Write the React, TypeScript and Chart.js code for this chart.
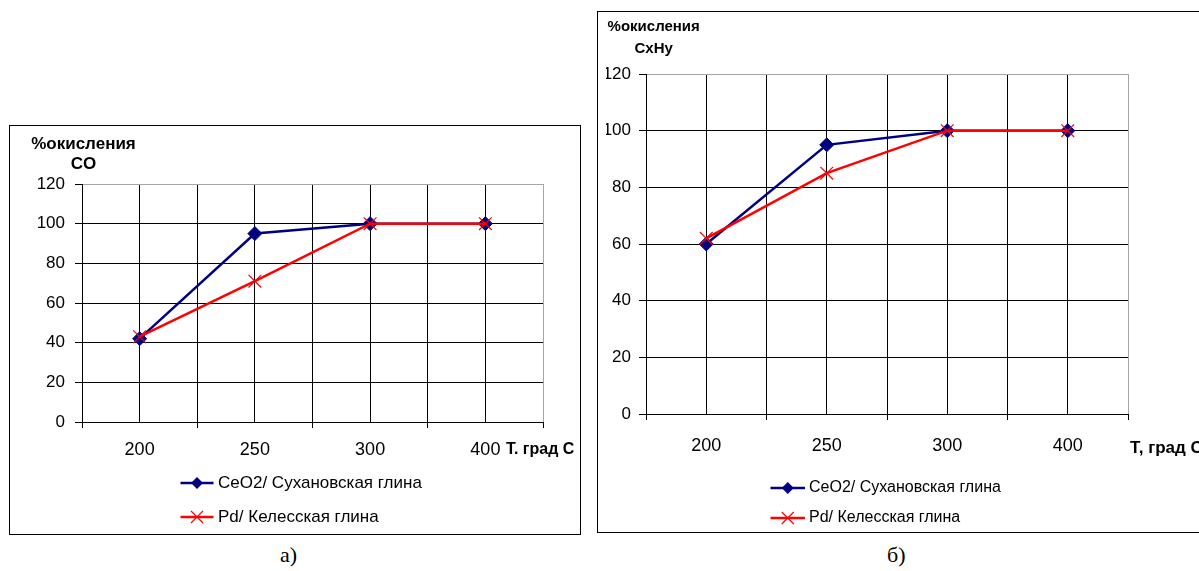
import React, { useEffect, useRef } from 'react';
import { Chart, registerables } from 'chart.js';

Chart.register(...registerables);

// ---- data ----
const categories = ['200', '250', '300', '400'];
const coCeO2 = [42, 95, 100, 100];
const coPd = [43, 71, 100, 100];
const hcCeO2 = [60, 95, 100, 100];
const hcPd = [62, 85, 100, 100];
const seriesNames = ['CeO2/ Сухановская глина', 'Pd/ Келесская глина'];
const yTitleA = ['%окисления', 'CO'];
const yTitleB = ['%окисления', 'CxHy'];
const xTitleA = 'Т. град С';
const xTitleB = 'Т, град С';
const captionA = 'а)';
const captionB = 'б)';

const NAVY = '#000080';
const RED = '#FF0000';
const GRAY = '#a6a6a6';
const FONT = "'Liberation Sans', Arial, sans-serif";

type Cfg = {
  ceo2: number[];
  pd: number[];
  yTitle: string[];
  xTitle: string;
  width: number;
  height: number;
  padding: { left: number; right: number; top: number; bottom: number };
  yAxisWidth: number;
  xAxisHeight: number;
  yFont: number;
  xFont: number;
  titleFont: number;
  xTitleFont: number;
  legendFont: number;
  yPad: number;
  xPad: number;
  yTitleX: number;
  yTitleY: number;
  yTitleGap: number;
  xTitleDx: number;
  xTitleY: number;
  legX1: number;
  legX2: number;
  legTx: number;
  legY1: number;
  legY2: number;
};

function drawDiamond(ctx: CanvasRenderingContext2D, x: number, y: number, r: number, color: string) {
  ctx.beginPath();
  ctx.moveTo(x, y - r);
  ctx.lineTo(x + r, y);
  ctx.lineTo(x, y + r);
  ctx.lineTo(x - r, y);
  ctx.closePath();
  ctx.fillStyle = color;
  ctx.fill();
}

function drawCross(ctx: CanvasRenderingContext2D, x: number, y: number, r: number, color: string) {
  const d = r * Math.SQRT1_2;
  ctx.beginPath();
  ctx.moveTo(x - d, y - d);
  ctx.lineTo(x + d, y + d);
  ctx.moveTo(x + d, y - d);
  ctx.lineTo(x - d, y + d);
  ctx.strokeStyle = color;
  ctx.lineWidth = 1.2;
  ctx.stroke();
}

function LineChart({ cfg }: { cfg: Cfg }) {
  const ref = useRef<HTMLCanvasElement | null>(null);
  useEffect(() => {
    if (!ref.current) return;
    const overlay = {
      id: 'overlay',
      afterDraw(chart: any) {
        const ctx: CanvasRenderingContext2D = chart.ctx;
        const ca = chart.chartArea;
        ctx.save();
        ctx.fillStyle = '#000';
        ctx.textBaseline = 'middle';
        ctx.font = `bold ${cfg.titleFont}px ${FONT}`;
        ctx.textAlign = 'center';
        cfg.yTitle.forEach((t, i) => ctx.fillText(t, cfg.yTitleX, cfg.yTitleY + i * cfg.yTitleGap));
        ctx.textAlign = 'left';
        ctx.font = `bold ${cfg.xTitleFont}px ${FONT}`;
        ctx.fillText(cfg.xTitle, ca.right + cfg.xTitleDx, cfg.xTitleY);

        // legend
        const rows = [
          { y: cfg.legY1, color: NAVY, name: seriesNames[0], marker: 'diamond' },
          { y: cfg.legY2, color: RED, name: seriesNames[1], marker: 'cross' },
        ];
        const mx = (cfg.legX1 + cfg.legX2) / 2;
        rows.forEach((r) => {
          ctx.beginPath();
          ctx.moveTo(cfg.legX1, r.y);
          ctx.lineTo(cfg.legX2, r.y);
          ctx.strokeStyle = r.color;
          ctx.lineWidth = 2.5;
          ctx.stroke();
          if (r.marker === 'diamond') drawDiamond(ctx, mx, r.y, 6, r.color);
          else drawCross(ctx, mx, r.y, 8.5, r.color);
          ctx.fillStyle = '#000';
          ctx.font = `${cfg.legendFont}px ${FONT}`;
          ctx.textAlign = 'left';
          ctx.fillText(r.name, cfg.legTx, r.y);
        });
        ctx.restore();
      },
    };

    const chart = new Chart(ref.current, {
      type: 'line',
      data: {
        datasets: [
          {
            label: seriesNames[0],
            data: cfg.ceo2.map((v, i) => ({ x: i + 0.5, y: v })),
            borderColor: NAVY,
            backgroundColor: NAVY,
            borderWidth: 2.5,
            pointStyle: 'rectRot',
            pointRadius: 7,
            pointBackgroundColor: NAVY,
            pointBorderColor: NAVY,
            pointBorderWidth: 1,
            tension: 0,
            order: 1,
          },
          {
            label: seriesNames[1],
            data: cfg.pd.map((v, i) => ({ x: i + 0.5, y: v })),
            borderColor: RED,
            backgroundColor: RED,
            borderWidth: 2.5,
            pointStyle: 'crossRot',
            pointRadius: 9,
            pointBorderColor: RED,
            pointBorderWidth: 1.2,
            tension: 0,
            order: 0,
          },
        ],
      },
      options: {
        responsive: false,
        animation: false,
        devicePixelRatio: 1,
        layout: { padding: cfg.padding },
        plugins: {
          legend: { display: false },
          tooltip: { enabled: false },
          title: { display: false },
        },
        scales: {
          x: {
            type: 'linear',
            min: 0,
            max: categories.length,
            afterFit: (s: any) => {
              s.height = cfg.xAxisHeight;
            },
            ticks: {
              stepSize: 0.5,
              autoSkip: false,
              maxRotation: 0,
              padding: cfg.xPad,
              color: '#000',
              font: { family: FONT, size: cfg.xFont },
              callback: (v: any) => {
                const n = Number(v);
                return Math.abs((n % 1) - 0.5) < 1e-6 ? categories[Math.floor(n)] : '';
              },
            },
            grid: {
              color: (c: any) => (c.tick && c.tick.value === categories.length ? GRAY : '#000'),
              tickColor: (c: any) =>
                c.tick && Math.abs(c.tick.value % 1) < 1e-6 ? '#000' : 'rgba(0,0,0,0)',
              tickLength: 6,
              lineWidth: 1,
            },
            border: { color: '#000', width: 1 },
          },
          y: {
            min: 0,
            max: 120,
            afterFit: (s: any) => {
              s.width = cfg.yAxisWidth;
            },
            ticks: {
              stepSize: 20,
              padding: cfg.yPad,
              color: '#000',
              font: { family: FONT, size: cfg.yFont },
            },
            grid: {
              color: (c: any) => (c.tick && c.tick.value === 120 ? GRAY : '#000'),
              tickColor: '#000',
              tickLength: 7,
              lineWidth: 1,
            },
            border: { color: '#000', width: 1 },
          },
        },
      } as any,
      plugins: [overlay],
    });
    return () => chart.destroy();
  }, [cfg]);
  return <canvas ref={ref} width={cfg.width} height={cfg.height} style={{ display: 'block' }} />;
}

const cfgA: Cfg = {
  ceo2: coCeO2,
  pd: coPd,
  yTitle: yTitleA,
  xTitle: xTitleA,
  width: 570,
  height: 408,
  padding: { left: 12, right: 37, top: 58, bottom: 72 },
  yAxisWidth: 60,
  xAxisHeight: 40,
  yFont: 17,
  xFont: 18,
  titleFont: 17,
  xTitleFont: 16,
  legendFont: 17,
  yPad: 10,
  xPad: 11,
  yTitleX: 73.5,
  yTitleY: 18,
  yTitleGap: 20,
  xTitleDx: -37,
  xTitleY: 324,
  legX1: 170.5,
  legX2: 203.5,
  legTx: 208,
  legY1: 357,
  legY2: 391,
};

const cfgB: Cfg = {
  ceo2: hcCeO2,
  pd: hcPd,
  yTitle: yTitleB,
  xTitle: xTitleB,
  width: 698,
  height: 520,
  padding: { left: 8, right: 168, top: 62, bottom: 78 },
  yAxisWidth: 40,
  xAxisHeight: 40,
  yFont: 17,
  xFont: 18,
  titleFont: 15,
  xTitleFont: 17,
  legendFont: 16,
  yPad: 8,
  xPad: 15,
  yTitleX: 55.7,
  yTitleY: 15,
  yTitleGap: 22,
  xTitleDx: 2,
  xTitleY: 436,
  legX1: 172.5,
  legX2: 207,
  legTx: 211,
  legY1: 476,
  legY2: 506,
};

export default function App() {
  return (
    <div
      style={{
        position: 'absolute',
        left: 0,
        top: 0,
        width: 1199,
        height: 571,
        overflow: 'hidden',
        background: '#fff',
      }}
    >
      <div
        style={{
          position: 'absolute',
          left: 9,
          top: 125,
          width: 572,
          height: 410,
          border: '1px solid #000',
          boxSizing: 'border-box',
        }}
      >
        <LineChart cfg={cfgA} />
      </div>
      <div
        style={{
          position: 'absolute',
          left: 597,
          top: 11,
          width: 700,
          height: 522,
          border: '1px solid #000',
          boxSizing: 'border-box',
        }}
      >
        <LineChart cfg={cfgB} />
      </div>
      <div
        style={{
          position: 'absolute',
          left: 280,
          top: 543,
          fontFamily: "'Liberation Serif', 'Times New Roman', serif",
          fontSize: 22,
          lineHeight: '24px',
        }}
      >
        {captionA}
      </div>
      <div
        style={{
          position: 'absolute',
          left: 887,
          top: 543,
          fontFamily: "'Liberation Serif', 'Times New Roman', serif",
          fontSize: 22,
          lineHeight: '24px',
        }}
      >
        {captionB}
      </div>
    </div>
  );
}
